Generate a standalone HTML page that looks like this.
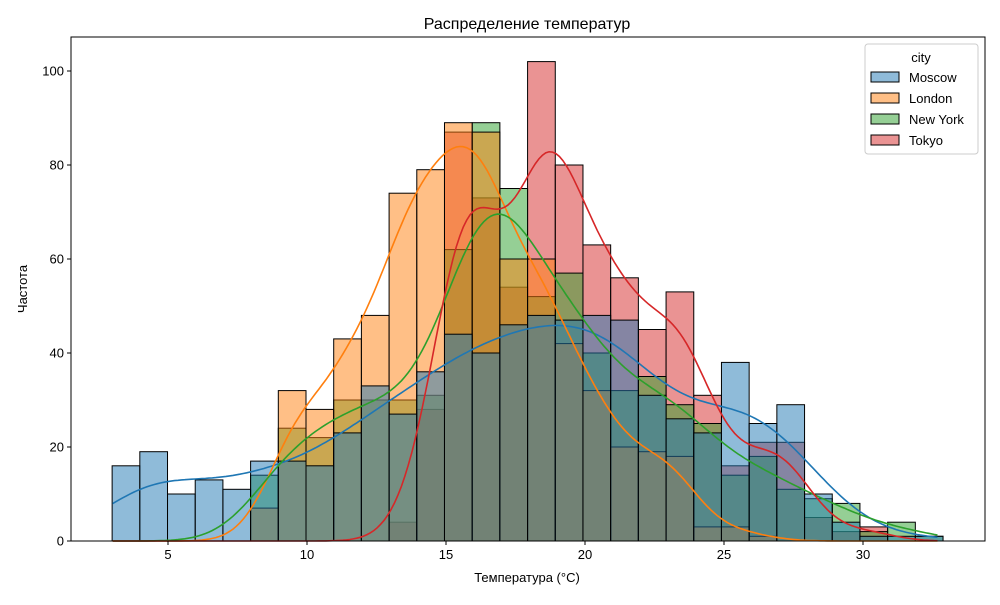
<!DOCTYPE html>
<html><head><meta charset="utf-8"><style>
body{margin:0;background:#fff;}
svg text{font-family:"Liberation Sans","DejaVu Sans",sans-serif;fill:#000;}
</style></head><body>
<svg id="chart" width="1000" height="600" viewBox="0 0 1000 600">
<rect width="1000" height="600" fill="#fff"/>
<g id="bars"></g>
<g id="kdes"></g>
<g id="axes"></g>
<text x="527" y="29" font-size="16" text-anchor="middle">Распределение температур</text>
<text x="527" y="582" font-size="13" text-anchor="middle">Температура (°C)</text>
<text x="27" y="289" font-size="13" text-anchor="middle" transform="rotate(-90 27 289)">Частота</text>
<g id="legend"></g>
</svg>
<script>
const cities = ["Moscow","London","New York","Tokyo"];
const colors = ["#1f77b4","#ff7f0e","#2ca02c","#d62728"];
const moscowCounts = [16,19,10,13,11,17,17,16,23,33,27,36,44,40,46,48,47,48,47,31,26,23,38,25,29,10,4,1,1,1];
const londonCounts = [0,0,0,0,0,7,32,28,43,48,74,79,89,87,60,60,42,32,20,19,18,3,3,1,0,0,0,0,0,0];
const newYorkCounts = [0,0,0,0,0,14,24,22,30,30,30,31,62,89,75,52,57,40,32,35,29,25,14,18,11,9,8,2,4,1];
const tokyoCounts = [0,0,0,0,0,0,0,0,0,0,4,28,87,73,54,102,80,63,56,45,53,31,16,21,21,5,2,3,0,0];
const xTicks = [5,10,15,20,25,30];
const yTicks = [0,20,40,60,80,100];
const binStart = 2.99, binWidth = 0.9963;

const L=71,R=985,T=37,B=541;
const xs = v => 168 + (v-5)*27.8;
const ys = v => 541 - v*4.7;
const NS="http://www.w3.org/2000/svg";
function mk(tag, attrs, parent){const e=document.createElementNS(NS,tag);for(const k in attrs)e.setAttribute(k,attrs[k]);parent.appendChild(e);return e;}
const series=[moscowCounts,londonCounts,newYorkCounts,tokyoCounts];
const slug=["moscow","london","new-york","tokyo"];
const barsG=document.getElementById('bars');
for(let c=3;c>=0;c--){
  series[c].forEach((v,i)=>{
    if(v<=0) return;
    const x0=xs(binStart+i*binWidth), x1=xs(binStart+(i+1)*binWidth);
    const r=mk('rect',{x:x0,y:ys(v),width:x1-x0,height:ys(0)-ys(v),fill:colors[c],'fill-opacity':0.5,stroke:'#000','stroke-width':1},barsG);
    
    
  });
}
const kG=document.getElementById('kdes');
const nb=moscowCounts.length;
for(let c=0;c<4;c++){
  const cnt=series[c]; let n=0,m=0;
  cnt.forEach((v,i)=>{n+=v;m+=v*(binStart+(i+0.5)*binWidth);}); m/=n;
  let vr=0; cnt.forEach((v,i)=>{const d=binStart+(i+0.5)*binWidth-m;vr+=v*d*d;}); vr/=n;
  const bw=Math.sqrt(vr)*Math.pow(n,-0.2);
  const a=binStart+0.02, b=binStart+nb*binWidth-0.2;
  let d="";
  for(let k=0;k<=240;k++){
    const x=a+(b-a)*k/240; let s=0;
    cnt.forEach((v,i)=>{const z=(x-(binStart+(i+0.5)*binWidth))/bw;s+=v*Math.exp(-0.5*z*z);});
    const dens=s/(n*bw*Math.sqrt(2*Math.PI));
    d+=(k?"L":"M")+xs(x).toFixed(1)+","+ys(dens*n*binWidth).toFixed(1);
  }
  const p=mk('path',{d:d,fill:'none',stroke:colors[c],'stroke-width':1.6},kG);
  
  
}
const ax=document.getElementById('axes');
mk('rect',{x:L,y:T,width:R-L,height:B-T,fill:'none',stroke:'#000','stroke-width':1},ax);
xTicks.forEach(t=>{
  const x=xs(t);
  const l=mk('line',{x1:x,x2:x,y1:B,y2:B+4,stroke:'#000'},ax);
  
  
  const tx=mk('text',{x:x,y:B+18,'font-size':13,'text-anchor':'middle'},ax); tx.textContent=t;
  
  
});
yTicks.forEach(t=>{
  const y=ys(t);
  const l=mk('line',{x1:L-4,x2:L,y1:y,y2:y,stroke:'#000'},ax);
  
  
  const tx=mk('text',{x:L-7,y:y+4.5,'font-size':13,'text-anchor':'end'},ax); tx.textContent=t;
  
  
});
const lg=document.getElementById('legend');
mk('rect',{x:865,y:44,width:113,height:110,rx:3,fill:'#fff','fill-opacity':0.8,stroke:'#ccc'},lg);
const lt=mk('text',{x:921,y:62,'font-size':13,'text-anchor':'middle'},lg); lt.textContent='city';
cities.forEach((name,i)=>{
  const y=77+i*21;
  const sw=mk('rect',{x:871,y:y-5,width:28,height:10,fill:colors[i],'fill-opacity':0.5,stroke:'#000','stroke-width':1},lg);
  
  
  const t=mk('text',{x:909,y:y+5,'font-size':13},lg); t.textContent=name;
  
  
});
</script>
</body></html>
